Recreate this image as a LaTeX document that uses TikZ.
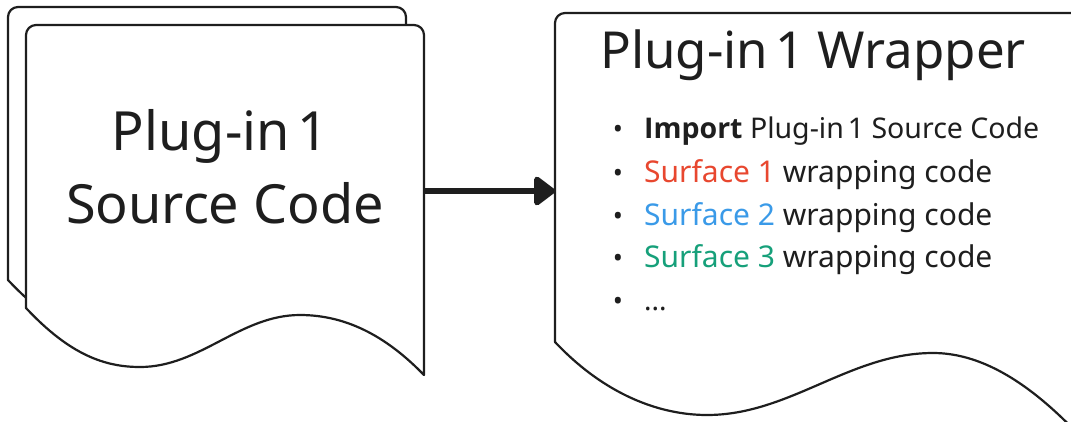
\documentclass[tikz,border=0pt]{standalone}
\usepackage{fontspec}
\setmainfont{Noto Sans}[BoldFont={Open Sans Bold}]
\usetikzlibrary{arrows.meta}

\definecolor{inkgray}{HTML}{1E1E1E}
\definecolor{surfred}{HTML}{E8472F}
\definecolor{surfblue}{HTML}{3A9AE8}
\definecolor{surfgreen}{HTML}{16A07A}

\newcommand{\plugone}{Plug-in\hspace{.14em}1}

\tikzset{
    sheet/.style={draw=inkgray, line width=2.2pt, fill=white, line join=round},
    anchorbox/.style={rectangle, inner sep=0pt, outer sep=0pt},
    flow/.style={draw=inkgray, line width=6.5pt, -{Triangle[length=23pt,width=33pt,round]}},
    srctext/.style={inner sep=0pt, text=inkgray, font=\fontsize{54}{64}\selectfont},
    titletext/.style={inner sep=0pt, text=inkgray, font=\fontsize{51}{60}\selectfont},
    itemtext/.style={inner sep=0pt, text=inkgray, font=\fontsize{#1}{34}\selectfont},
    dot/.style={inner sep=0pt, text=inkgray, font=\fontsize{27}{30}\selectfont}
}

\begin{document}
\begin{tikzpicture}[x=1pt,y=-1pt]
    \useasboundingbox (0,0) rectangle (1071,421);
    % source code stack, back sheet first
    \draw[sheet] (8,280) [rounded corners=10pt] -- (8,7) -- (406,7) [sharp corners] -- (406,347)
        .. controls (372,312) and (332,287) .. (282,287)
        .. controls (222,287) and (182,339) .. (122,339)
        .. controls (87,339) and (52,327) .. (8,280) -- cycle;
    \draw[sheet] (26,308) [rounded corners=10pt] -- (26,25) -- (424,25) [sharp corners] -- (424,375)
        .. controls (390,340) and (350,315) .. (300,315)
        .. controls (240,315) and (200,367) .. (140,367)
        .. controls (105,367) and (70,355) .. (26,308) -- cycle;
    % wrapper sheet, runs off the right edge
    \draw[sheet] (555,342) [rounded corners=10pt] -- (555,13) -- (1110,13) [sharp corners] -- (1110,470)
        .. controls (1060,410) and (1000,353) .. (933,353)
        .. controls (850,353) and (790,415) .. (707,415)
        .. controls (660,415) and (605,395) .. (555,342) -- cycle;

    \node[anchorbox, minimum width=398pt, minimum height=332pt] (src) at (225,191) {};
    \node[anchorbox, minimum width=555pt, minimum height=356pt] (wrap) at (832.5,191) {};
    \draw[flow] (src) -- (wrap);

    \node[srctext, anchor=base] (srcname) at (220,150) {\plugone};
    \node[srctext, anchor=base] (srckind) at (225,223) {Source Code};
    \node[titletext, anchor=base west] (wraptitle) at (600,68) {\plugone{} Wrapper};

    \foreach \n/\y/\s/\entry in {1/138/28.5/{\textbf{Import} \plugone{} Source Code},
        2/182/30/{\textcolor{surfred}{Surface 1} wrapping code},
        3/225/30/{\textcolor{surfblue}{Surface 2} wrapping code},
        4/267/30/{\textcolor{surfgreen}{Surface 3} wrapping code},
        5/310/28/{...}} {
        \node[dot, anchor=base] (dot\n) at (618,\y) {•};
        \node[itemtext=\s, anchor=base west] (item\n) at (644,\y) {\entry};
    }
\end{tikzpicture}
\end{document}
